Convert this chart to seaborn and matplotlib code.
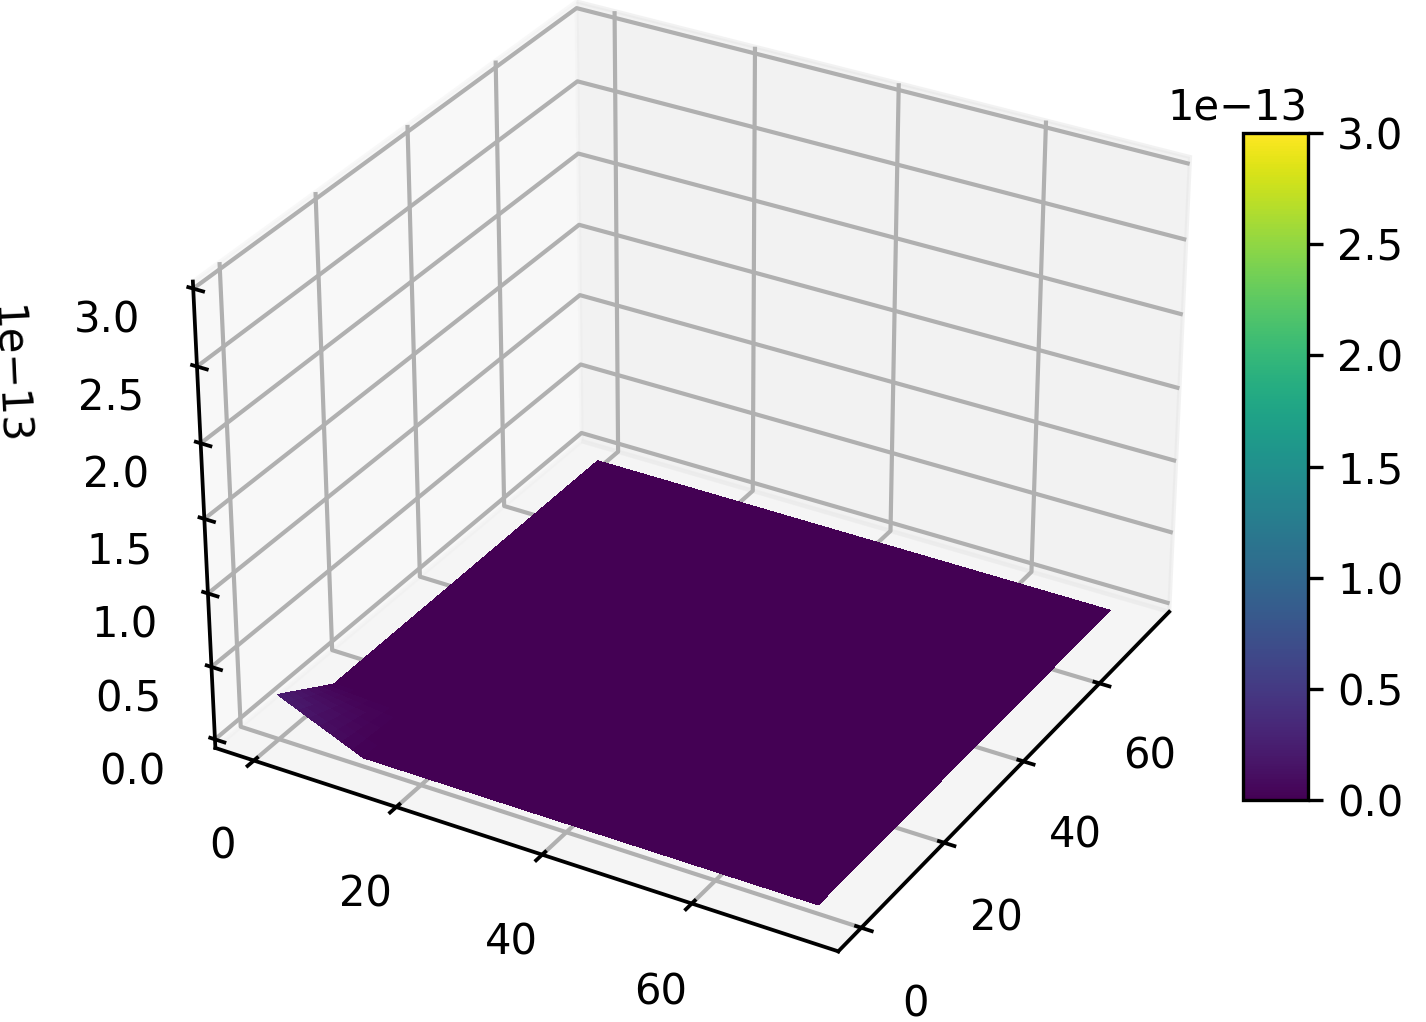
import numpy as np
import seaborn as sns
import matplotlib
matplotlib.use('Agg')
import matplotlib.pyplot as plt

# grid is fine near the corner bump, the rest of the sheet is flat
x_vals = [0, 1.5, 3, 4.5, 6, 7.5, 9, 10.5, 12, 73.5]
y_vals = [0, 1.5, 3, 4.5, 6, 7.5, 9, 10.5, 12, 74]

# values in units of 1e-13, rows follow y, columns follow x
z_vals = [
    [.250, .219, .188, .156, .125, .094, .062, .031, 0, 0],
    [.219, .191, .164, .137, .109, .082, .055, .027, 0, 0],
    [.188, .164, .141, .117, .094, .070, .047, .023, 0, 0],
    [.156, .137, .117, .098, .078, .059, .039, .020, 0, 0],
    [.125, .109, .094, .078, .062, .047, .031, .016, 0, 0],
    [.094, .082, .070, .059, .047, .035, .023, .012, 0, 0],
    [.062, .055, .047, .039, .031, .023, .016, .008, 0, 0],
    [.031, .027, .023, .020, .016, .012, .008, .004, 0, 0],
    [0, 0, 0, 0, 0, 0, 0, 0, 0, 0],
    [0, 0, 0, 0, 0, 0, 0, 0, 0, 0],
]
z_max = 3.0e-13


def main():
    cmap = sns.color_palette("viridis", as_cmap=True)
    X, Y = np.meshgrid(x_vals, y_vals)
    Z = np.array(z_vals) * 1e-13

    fig = plt.figure(figsize=(1426 / 300, 1022 / 300), dpi=300)
    with plt.rc_context({'grid.linewidth': 1.0, 'axes.linewidth': 0.9,
                         'xtick.major.width': 0.9, 'ytick.major.width': 0.9}):
        ax = fig.add_axes([0.0929, 0.0, 0.7765, 1.0833], projection='3d')
    ax.set_box_aspect((4, 4, 2.98))
    surf = ax.plot_surface(X, Y, Z, cmap=cmap, vmin=0, vmax=z_max,
                           linewidth=0, antialiased=False)
    ax.set_xlim(-5.5, 79.1)
    ax.set_ylim(-5.4, 79.1)
    ax.set_zlim(-0.06e-13, 3.045e-13)
    ax.set_xticks([0, 20, 40, 60])
    ax.set_yticks([0, 20, 40, 60])
    ax.set_zticks([0, 0.5e-13, 1e-13, 1.5e-13, 2e-13, 2.5e-13, 3e-13])
    # z axis on the left side of the box
    ax.zaxis._axinfo['juggled'] = (1, 2, 0)

    cax = fig.add_axes([1243 / 1426, 222 / 1022, 65 / 1426, 667 / 1022])
    fig.colorbar(surf, cax=cax)

    plt.savefig('out.png', dpi=300)


if __name__ == "__main__":
    main()
